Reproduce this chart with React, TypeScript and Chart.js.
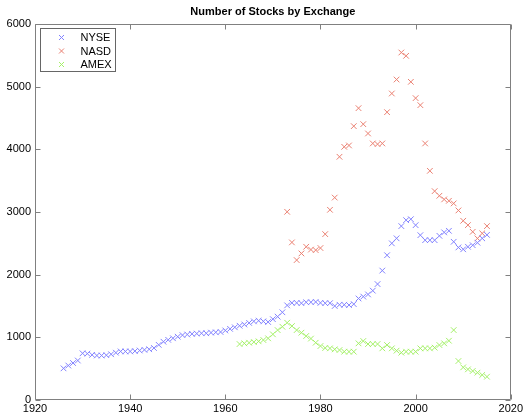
import React, { useEffect, useRef } from "react";
import { Chart, registerables } from "chart.js";

Chart.register(...registerables);

const TITLE = "Number of Stocks by Exchange";
const SERIES_NAMES = ["NYSE", "NASD", "AMEX"];
const X_TICKS = [1920, 1940, 1960, 1980, 2000, 2020];
const Y_TICKS = [0, 1000, 2000, 3000, 4000, 5000, 6000];

const NYSE_FIRST_YEAR = 1926;
const nyseValues = [
  505, 550, 590, 630, 745, 740, 720, 710, 710, 715,
  730, 755, 775, 775, 775, 780, 790, 800, 810, 830,
  880, 930, 960, 985, 1010, 1035, 1045, 1055, 1060, 1065,
  1065, 1075, 1080, 1085, 1110, 1135, 1160, 1185, 1205, 1230,
  1255, 1265, 1255, 1245, 1290, 1330, 1400, 1510, 1550, 1550,
  1545, 1560, 1560, 1565, 1550, 1545, 1545, 1500, 1520, 1520,
  1515, 1530, 1620, 1650, 1685, 1745, 1850, 2065, 2310, 2500,
  2580, 2775, 2870, 2885, 2790, 2630, 2550, 2550, 2550, 2620,
  2675, 2700, 2525, 2435, 2405, 2445, 2470, 2510, 2580, 2635,
];

const NASD_FIRST_YEAR = 1973;
const nasdValues = [
  3003, 2515, 2233, 2339, 2445, 2400, 2392, 2425, 2647, 3035,
  3230, 3881, 4040, 4062, 4370, 4657, 4402, 4253, 4094, 4083,
  4094, 4593, 4891, 5114, 5545, 5492, 5077, 4817, 4705, 4094,
  3657, 3333, 3259, 3201, 3179, 3137, 3025, 2860, 2791, 2684,
  2579, 2659, 2775,
];

const AMEX_FIRST_YEAR = 1963;
const amexValues = [
  893, 904, 914, 925, 936, 957, 984, 1048, 1116, 1169,
  1233, 1180, 1116, 1074, 1021, 980, 914, 861, 830, 824,
  808, 797, 771, 771, 771, 904, 941, 893, 893, 893,
  824, 877, 824, 787, 755, 771, 771, 771, 824, 824,
  824, 835, 877, 904, 946, 1116, 622, 521, 489, 463,
  436, 399, 372,
];

const COLORS = ["#8282ff", "#ea8072", "#a4f068"];

const toPoints = (first: number, vals: number[]) =>
  vals.map((v, i) => ({ x: first + i, y: v }));

const FONT = '"Liberation Sans", Arial, sans-serif';

const framePlugin = {
  id: "matlabFrame",
  afterDraw(chart: any) {
    const { ctx, chartArea: a, scales } = chart;
    const xs = scales.x;
    const ys = scales.y;
    ctx.save();
    ctx.strokeStyle = "#808080";
    ctx.lineWidth = 1;
    const L = Math.round(a.left) + 0.5;
    const R = Math.round(a.right) - 0.5;
    const T = Math.round(a.top) + 0.5;
    const B = Math.round(a.bottom) - 0.5;
    ctx.beginPath();
    ctx.rect(L, T, R - L, B - T);
    ctx.stroke();
    const tl = 5;
    ctx.beginPath();
    X_TICKS.forEach((v) => {
      const px = Math.round(xs.getPixelForValue(v)) + 0.5;
      ctx.moveTo(px, B);
      ctx.lineTo(px, B - tl);
      ctx.moveTo(px, T);
      ctx.lineTo(px, T + tl);
    });
    Y_TICKS.forEach((v) => {
      const py = Math.round(ys.getPixelForValue(v)) + 0.5;
      ctx.moveTo(L, py);
      ctx.lineTo(L + tl, py);
      ctx.moveTo(R, py);
      ctx.lineTo(R - tl, py);
    });
    ctx.stroke();

    // title
    ctx.fillStyle = "#000";
    ctx.font = `bold 11px ${FONT}`;
    ctx.textAlign = "center";
    ctx.textBaseline = "middle";
    ctx.fillText(TITLE, (a.left + a.right) / 2, 12);

    // legend
    const lx = L + 5;
    const ly = T + 4;
    const lw = 75;
    const lh = 43;
    ctx.fillStyle = "#fff";
    ctx.fillRect(lx, ly, lw, lh);
    ctx.strokeStyle = "#666";
    ctx.strokeRect(lx, ly, lw, lh);
    ctx.font = `11px ${FONT}`;
    ctx.textAlign = "left";
    SERIES_NAMES.forEach((name, i) => {
      const cy = ly + 9 + i * 13.5;
      const cx = lx + 21;
      const r = 2.5;
      ctx.strokeStyle = COLORS[i];
      ctx.beginPath();
      ctx.moveTo(cx - r, cy - r);
      ctx.lineTo(cx + r, cy + r);
      ctx.moveTo(cx - r, cy + r);
      ctx.lineTo(cx + r, cy - r);
      ctx.stroke();
      ctx.fillStyle = "#000";
      ctx.fillText(name, lx + 40, cy + 0.5);
    });
    ctx.restore();
  },
};

export default function App() {
  const ref = useRef<HTMLCanvasElement | null>(null);
  useEffect(() => {
    document.body.style.margin = "0";
    const canvas = ref.current;
    if (!canvas) return;
    const series = [
      toPoints(NYSE_FIRST_YEAR, nyseValues),
      toPoints(NASD_FIRST_YEAR, nasdValues),
      toPoints(AMEX_FIRST_YEAR, amexValues),
    ];
    const chart = new Chart(canvas, {
      type: "scatter",
      data: {
        datasets: SERIES_NAMES.map((name, i) => ({
          label: name,
          data: series[i],
          pointStyle: "crossRot",
          pointRadius: 4,
          pointBorderWidth: 1,
          borderColor: COLORS[i],
          backgroundColor: COLORS[i],
          showLine: false,
        })),
      },
      options: {
        animation: false,
        responsive: true,
        maintainAspectRatio: false,
        layout: { padding: { top: 24, right: 14, left: 0, bottom: 0 } },
        plugins: {
          legend: { display: false },
          title: { display: false },
          tooltip: { enabled: false },
        },
        scales: {
          x: {
            type: "linear",
            min: 1920,
            max: 2020,
            afterFit: (s: any) => {
              s.height = 14;
            },
            afterBuildTicks: (s: any) => {
              s.ticks = X_TICKS.map((v) => ({ value: v }));
            },
            grid: { display: false, drawTicks: false },
            border: { display: false },
            ticks: {
              padding: 2,
              color: "#000",
              font: { family: FONT, size: 11 },
              maxRotation: 0,
              callback: (v: any) => String(v),
            },
          },
          y: {
            type: "linear",
            min: 0,
            max: 6000,
            afterFit: (s: any) => {
              s.width = 35;
            },
            afterBuildTicks: (s: any) => {
              s.ticks = Y_TICKS.map((v) => ({ value: v }));
            },
            grid: { display: false, drawTicks: false },
            border: { display: false },
            ticks: {
              padding: 4,
              color: "#000",
              font: { family: FONT, size: 11 },
              callback: (v: any) => String(v),
            },
          },
        },
      },
      plugins: [framePlugin],
    });
    return () => chart.destroy();
  }, []);
  return (
    <div style={{ position: "fixed", left: 0, top: 0, width: 525, height: 414 }}>
      <canvas ref={ref} />
    </div>
  );
}
